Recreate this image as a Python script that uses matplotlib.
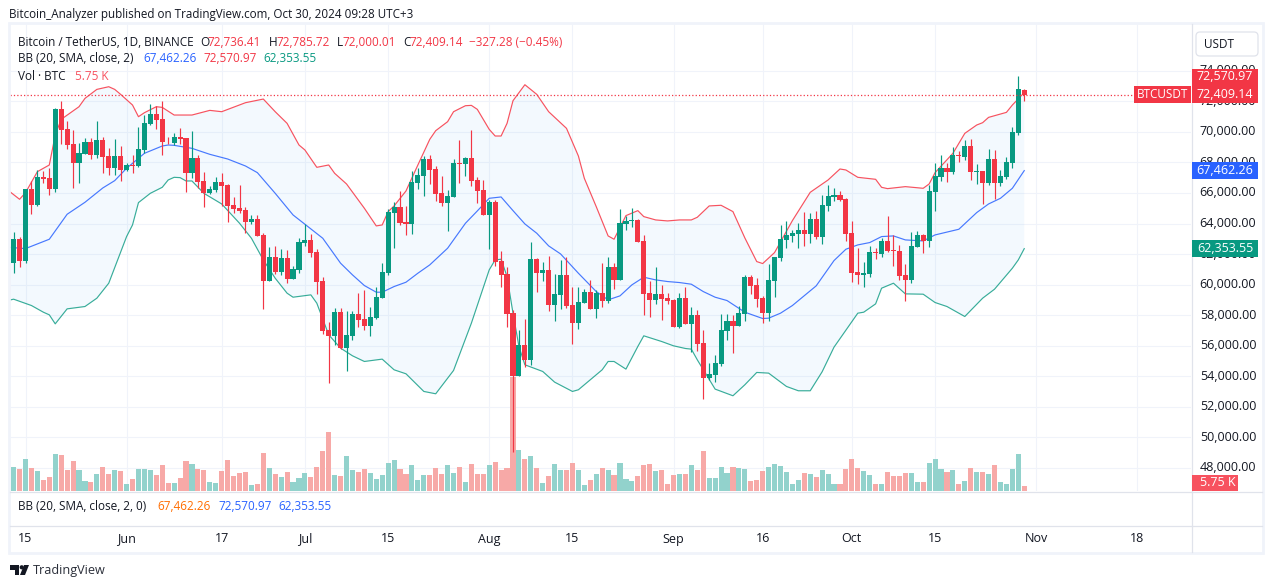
import matplotlib
matplotlib.use('Agg')
import matplotlib.pyplot as plt
import matplotlib.transforms as mtrans
from matplotlib.patches import Rectangle, Circle, Polygon, FancyBboxPatch

plt.rcParams['font.family'] = ['Open Sans', 'DejaVu Sans']

# daily candles, May 13 to Oct 30 2024
opens = [61444,62970,61553,66240,65215,67046,66981,66261,71493,70164,
         69204,67984,68572,69313,68507,69466,68420,67657,68420,67482,
         67809,67787,68834,70534,71145,70818,69422,69270,69662,69575,
         67330,68267,66763,66000,66196,66719,66523,65215,65019,64888,
         64103,64299,63253,60266,61814,60833,61749,60397,60986,62752,
         62926,62141,60245,57040,56604,58217,55819,56669,58086,57759,
         57302,57825,59155,60790,64692,65084,64081,63972,66676,67133,
         68223,67569,65978,65346,65760,67962,67918,68289,66850,66196,
         64561,65411,61553,60702,58152,53988,56059,55078,61683,60768,
         60964,58675,59329,60637,58675,57498,58806,59525,58413,59460,
         58937,61160,60310,63972,64169,64234,62861,59460,59002,59394,
         59133,59002,57236,59133,57432,58021,56190,53901,54097,54816,
         56975,57629,57302,58086,60506,59983,59133,58152,60245,61749,
         62926,63188,63318,63580,63318,64299,63122,65150,65738,65869,
         65607,63384,60833,60637,60702,62141,62010,62861,62272,62207,
         60637,60310,62468,63253,62861,66065,67046,67635,67373,68463,
         68354,69074,67395,67439,66654,68223,66654,67046,67962,69924,72736]
highs = [63449,63100,66240,66785,67482,67439,67613,71537,71995,70709,
         70120,69248,69619,69575,70709,69640,68943,69531,69074,67962,
         68463,70338,71079,71799,71711,71995,69640,69924,70229,69597,
         70055,68463,67373,66479,67046,67286,66588,65738,66523,65084,
         64561,64561,63384,62490,62534,62359,62272,61247,63057,63972,
         63318,62337,60506,57541,58479,58479,58283,58283,59460,59656,
         58544,59830,61400,64953,65411,66131,65150,67417,67613,68420,
         68485,67744,67112,66196,68223,69466,68332,70120,67024,66850,
         65542,65564,62207,61160,58348,57040,57738,62795,61749,61487,
         61880,60702,61618,61814,59852,59852,59721,60310,59656,61422,
         61814,61422,64953,64496,65019,64299,63253,60245,61160,59983,
         59460,59067,59460,59852,58544,58348,57040,54882,55405,58086,
         58086,58021,58610,60637,60637,60441,59264,61356,61814,63907,
         64169,63580,64038,64757,64692,64823,65869,66523,66327,66131,
         65673,64169,62403,61487,62534,62403,63057,64496,63253,62599,
         61356,63449,63514,63318,66523,67962,68485,67962,69008,68747,
         69466,69531,67896,67439,68877,68812,67504,68354,70316,73652,72785]
lows = [60790,61182,61400,64648,65171,66676,65891,66087,69226,68877,
        66349,66676,68529,68202,68311,67330,67199,67177,66763,67460,
        67330,67722,68616,70469,70207,68507,69226,69161,69226,66087,
        66959,66305,65106,65913,66065,65150,64103,64714,64670,63405,
        63994,63188,58435,60266,60702,60637,60114,60375,60790,62555,
        61836,59394,56778,53552,56059,55776,54315,56342,57193,57040,
        56604,57759,59155,60637,62425,63907,63275,63340,66283,65825,
        66588,65498,65150,63536,65738,66676,67133,66479,65368,64561,
        62359,61247,59852,57193,49061,53988,54577,54751,59525,60245,
        58283,57650,58413,58501,56124,57105,58806,58413,57825,58544,
        58806,59721,60310,63580,63776,62795,58021,57890,58740,57694,
        58740,57236,57171,57432,55601,55667,52527,53770,53639,54686,
        56386,55536,57302,57629,59394,58544,57498,57629,59198,61553,
        62403,62795,62403,62534,62730,62991,62664,64823,65477,65477,
        62861,60179,60048,59852,60506,61683,61814,62141,61226,60310,
        58937,60114,62468,62076,62468,64823,66785,66719,67242,68027,
        68158,66850,66588,65280,66523,65607,66458,66915,67635,69793,72000]
closes = [62970,61553,66240,65237,67046,66915,66261,71493,70142,69161,
          67984,68616,69313,68507,69466,68376,67657,68420,67526,67831,
          67766,68877,70578,71145,70796,69357,69379,69662,69553,67330,
          68267,66741,66000,66240,66719,66479,65171,64953,64823,64103,
          64299,63209,60266,61814,60833,61749,60397,61029,62795,62926,
          62098,60201,56996,56604,58217,55819,56691,58086,57694,57302,
          57890,59198,60833,64757,65084,64038,63972,66719,67177,68223,
          67526,65934,65346,65804,67962,67918,68289,66806,66152,64561,
          65411,61509,60659,58108,53988,56059,55078,61683,60768,60964,
          58675,59394,60637,58610,57498,58871,59525,58413,59460,58937,
          61160,60310,64038,64169,64212,62795,59394,59002,59394,59067,
          58937,57236,59133,57432,58021,56124,53901,54162,54882,57040,
          57629,57302,58152,60506,59918,59067,58152,60310,61814,62991,
          63253,63384,63580,63318,64299,63122,65215,65804,65869,65542,
          63318,60768,60637,60768,62141,62098,62861,62207,62228,60572,
          60310,62534,63253,62861,66131,67112,67635,67373,68485,68420,
          69074,67373,67439,66654,68223,66654,67112,68027,69989,72801,72409]
volumes = [27.6,25.3,36.8,26.4,23.0,12.6,16.1,42.5,41.4,24.1,
           34.5,24.1,11.5,10.3,19.5,27.6,19.5,24.1,23.0,8.0,
           13.8,25.3,25.3,24.1,18.4,29.9,9.2,9.2,14.9,34.5,
           31.0,25.3,24.1,10.3,9.2,23.0,35.6,17.2,20.7,21.8,
           6.9,8.0,43.7,26.4,19.5,16.1,21.8,10.3,14.9,20.7,
           16.1,27.6,46.0,67.8,18.4,17.2,40.2,24.1,21.8,25.3,
           20.7,13.8,18.4,32.2,35.6,25.3,19.5,29.9,12.6,18.4,
           18.4,26.4,19.5,29.9,20.7,27.6,10.3,31.0,19.5,19.5,
           29.9,33.3,24.1,26.4,131.0,47.1,36.8,40.2,26.4,9.2,
           17.2,31.0,24.1,24.1,32.2,24.1,6.9,12.6,19.5,26.4,
           24.1,18.4,32.2,13.8,11.5,17.2,29.9,31.0,23.0,24.1,
           8.0,18.4,19.5,19.5,29.9,24.1,46.0,14.9,14.9,27.6,
           20.7,27.6,26.4,25.3,11.5,12.6,23.0,27.6,31.0,28.7,
           21.8,8.0,12.6,20.7,19.5,16.1,24.1,19.5,8.0,8.0,
           25.3,36.8,26.4,23.0,18.4,8.0,8.0,21.8,17.2,17.2,
           20.7,20.7,10.3,10.3,32.2,36.8,25.3,21.8,24.1,8.0,
           11.5,26.4,21.8,21.8,19.5,29.9,10.3,8.0,25.3,42.5,5.75]

# Bollinger lines, read at their visible bends
upper_idx = [-1,1,2,4,6,7,8,11,12,14,16,17,18,20,21,22,24,25,27,30,33,35,39,42,44,46,48,49,51,53,54,56,
             59,61,62,63,64,66,68,70,71,73,74,76,77,78,80,81,82,83,84,86,88,90,93,95,96,98,100,101,103,
             105,106,108,110,112,114,115,117,119,121,123,125,126,128,131,134,137,139,140,142,145,146,147,
             150,153,154,155,158,160,162,163,164,167,168,170]
upper_band = [66196,65585,66022,67395,67831,69793,70818,71646,72191,72780,72954,72780,72453,71755,70992,71254,
              71646,71602,71101,71101,71406,71319,71908,72147,71319,70556,69139,68812,67678,67831,67286,66588,
              64997,63842,63907,64779,65150,66131,67831,69510,70076,70665,71319,71711,71733,71472,70164,69728,
              69728,70556,72038,73085,72453,71319,70229,68420,66959,65106,63188,62970,64517,
              64844,64452,64234,64169,64234,64234,64408,65150,65193,64779,63057,61509,61378,62098,64190,66043,
              66850,67569,67504,67024,66894,66370,66283,66414,66305,66588,67330,68594,69902,70447,70600,70948,
              71275,71755,72571]
basis_idx = [-1,2,5,6,9,12,15,17,19,22,25,26,27,30,33,36,39,41,44,47,49,52,55,57,59,61,62,64,66,68,70,73,75,76,
             78,80,82,84,86,88,90,92,95,98,100,102,104,106,108,110,112,114,116,118,120,123,126,127,129,131,
             135,138,140,142,144,146,148,150,153,155,159,162,164,166,168,170]
basis_band = [62446,62359,62817,62970,64605,65389,66327,66806,67613,68594,69074,69139,69117,68921,68529,68223,
              67766,67330,65978,64561,63951,63035,61400,60637,59939,59503,59503,59874,60157,60746,61291,62381,
              63471,64016,64823,65651,65738,64844,63972,63362,62534,62010,60746,59547,59002,59264,59983,60484,
              60310,60201,60136,60027,59547,59176,58958,58195,57781,57803,58130,58631,59918,61574,62316,62599,
              62752,63144,63188,62926,62861,63253,63624,64714,65280,65651,66305,67462]
lower_idx = [-1,0,3,5,6,7,9,12,14,16,19,20,21,23,25,26,27,28,29,30,32,35,38,40,42,44,46,47,50,51,53,55,57,59,
             62,64,66,69,71,74,77,80,81,82,83,84,85,86,89,91,94,95,99,100,101,103,105,106,109,111,113,114,
             115,118,121,123,125,127,130,132,134,136,138,142,143,145,146,148,150,153,155,157,160,163,165,
             168,169,170]
lower_band = [58958,59046,58631,58195,58021,57432,58413,58566,59111,60092,63144,63907,65368,65978,66370,66850,
              67024,67003,66785,66785,65978,65280,64016,63035,61618,60419,59438,59176,59329,58784,56713,55841,
              55340,54969,55122,54424,54162,53007,52854,54380,57476,60964,61618,61662,60528,58130,55950,54751,
              54315,53617,53007,53116,54424,54969,54969,54468,55950,56648,56277,55994,55819,55776,55078,53160,
              52724,53443,54250,54206,53334,53051,53051,54293,55906,58130,58195,58740,59765,60092,59394,59373,
              58828,58566,57912,59111,59700,61073,61618,62354]

# axis labels
price_ticks = list(range(48000, 76000, 2000))
date_pos = [2,19,35,49,63,80,94,111,126,141,155,172,189]
date_labels = ['15','Jun','17','Jul','15','Aug','15','Sep','16','Oct','15','Nov','18']

GREEN = '#089981'
RED = '#f23645'
SOFT_RED = '#f7525f'
BLUE = '#2962ff'
DARK = '#131722'
GRID = '#f0f3fa'
LINE = '#e0e3eb'
W, H = 1273, 588


def pane(x0, y0, x1, y1):
    return [x0/W, (H-y1)/H, (x1-x0)/W, (y1-y0)/H]


fig = plt.figure(figsize=(W/100, H/100), dpi=100, facecolor='white')

# bottom layer: grid and volume
vol = fig.add_axes(pane(10, 24, 1191, 491), zorder=1)
ax = fig.add_axes(pane(10, 24, 1191, 491), zorder=2)
ax.patch.set_visible(False)
xlim = (-0.61, 198.05)
ylim = (46490, 77060)
ax.set_xlim(xlim)
ax.set_ylim(ylim)
vol.set_xlim(xlim)
vol.set_ylim(0, 537)

idx = list(range(len(opens)))
colors = [GREEN if c >= o else RED for o, c in zip(opens, closes)]
vol_colors = ['#92d2cc' if c >= o else '#f7a9a7' for o, c in zip(opens, closes)]
vol.bar(idx, volumes, width=0.86, color=vol_colors, linewidth=0)
vol.set_xticks(date_pos)
vol.set_yticks([(p-ylim[0])*537/(ylim[1]-ylim[0]) for p in price_ticks])
vol.grid(True, color=GRID, linewidth=0.8)
vol.set_axisbelow(True)
vol.tick_params(length=0, labelbottom=False, labelleft=False)
for s in vol.spines.values():
    s.set_visible(False)

# Bollinger cloud
cloud_x = upper_idx + lower_idx[::-1]
cloud_y = upper_band + lower_band[::-1]
ax.fill(cloud_x, cloud_y, color='#2196f3', alpha=0.05, linewidth=0, zorder=1)
ax.plot(upper_idx, upper_band, color=SOFT_RED, lw=0.85, zorder=2)
ax.plot(basis_idx, basis_band, color=BLUE, lw=0.85, alpha=0.85, zorder=2)
ax.plot(lower_idx, lower_band, color=GREEN, lw=0.85, alpha=0.8, zorder=2)

# candles
ax.vlines(idx, lows, highs, colors=colors, lw=0.85, zorder=3)
bottoms = [min(o, c) for o, c in zip(opens, closes)]
heights = [max(abs(c-o), 40) for o, c in zip(opens, closes)]
ax.bar(idx, heights, bottom=bottoms, width=0.86, color=colors, linewidth=0, zorder=4)

# last price line
ax.axhline(closes[-1], color=RED, lw=0.9, linestyle=(0, (1, 1.7)), zorder=5)

ax.yaxis.tick_right()
ax.set_yticks(price_ticks)
ax.set_yticklabels([f'{p:,.2f}' for p in price_ticks], fontsize=9, color=DARK)
ax.tick_params(axis='y', length=0, pad=6.3)
ax.tick_params(axis='x', length=0, labelbottom=False)
ax.set_xticks([])
up = mtrans.ScaledTranslation(0, 1.5/100, fig.dpi_scale_trans)
for lab in ax.get_yticklabels():
    lab.set_transform(lab.get_transform() + up)
for s in ax.spines.values():
    s.set_visible(False)

# time scale
time_ax = fig.add_axes(pane(10, 526, 1191, 552), zorder=2)
time_ax.set_xlim(xlim)
time_ax.set_ylim(0, 1)
time_ax.axis('off')
for pos, lab in zip(date_pos, date_labels):
    time_ax.text(pos, 0.5, lab, ha='center', va='center', fontsize=9, color=DARK)

# overlay in pixels: frame, legend, price tags, logo
ov = fig.add_axes([0, 0, 1, 1], zorder=5)
ov.set_xlim(0, W)
ov.set_ylim(H, 0)
ov.axis('off')
ov.patch.set_visible(False)

ov.add_patch(Rectangle((9, 23), 1254, 530, fill=False, ec=GRID, lw=2))
ov.plot([10, 1262], [491.5, 491.5], color=LINE, lw=0.9)
ov.plot([10, 1262], [525.5, 525.5], color=LINE, lw=0.9)
ov.plot([1191.5, 1191.5], [24, 552], color=LINE, lw=0.9)

ov.text(9, 14.5, 'Bitcoin_Analyzer published on TradingView.com, Oct 30, 2024 09:28 UTC+3',
        fontsize=8.4, color=DARK, va='center')


def legend_row(y, parts):
    for x, txt, col in parts:
        ov.text(x, y, txt, fontsize=8.5, color=col, va='center')


legend_row(42, [(18, 'Bitcoin / TetherUS, 1D, BINANCE', DARK),
                (200, 'O', DARK), (207, '72,736.41', RED),
                (269, 'H', DARK), (276, '72,785.72', RED),
                (337, 'L', DARK), (342, '72,000.01', RED),
                (403, 'C', DARK), (409, '72,409.14', RED),
                (469, '\u2212327.28 (\u22120.45%)', RED)])
legend_row(59, [(18, 'BB (20, SMA, close, 2)', DARK),
                (143, '67,462.26', BLUE), (203, '72,570.97', RED), (263, '62,353.55', GREEN)])
legend_row(76, [(18, 'Vol \u00b7 BTC', DARK), (75, '5.75 K', SOFT_RED)])
legend_row(507, [(18, 'BB (20, SMA, close, 2, 0)', DARK),
                 (157, '67,462.26', '#ff6d00'), (218, '72,570.97', BLUE), (278, '62,353.55', BLUE)])

# USDT button
ov.add_patch(FancyBboxPatch((1196, 32), 62, 24, boxstyle='round,pad=0,rounding_size=4',
                            fc='white', ec=LINE, lw=0.9))
ov.text(1204, 44.5, 'USDT', fontsize=8.5, color=DARK, va='center')

# price tags
ov.add_patch(Rectangle((1192, 69), 66, 34, fc=RED, ec='none', zorder=3))
ov.add_patch(Rectangle((1134, 86), 57, 17, fc=RED, ec='none', zorder=3))
ov.add_patch(Rectangle((1192, 162), 66, 17, fc=BLUE, ec='none', zorder=3))
ov.add_patch(Rectangle((1192, 240), 66, 17, fc=GREEN, ec='none', zorder=3))
ov.add_patch(Rectangle((1192, 475), 46, 16, fc=SOFT_RED, ec='none', zorder=3))
for y, txt in [(76.7, '72,570.97'), (94, '72,409.14'), (170, '67,462.26'), (248.5, '62,353.55')]:
    ov.text(1253, y, txt, fontsize=9, color='white', va='center', ha='right', zorder=4)
ov.text(1162.5, 94.5, 'BTCUSDT', fontsize=8.5, color='white', va='center', ha='center', zorder=4)
ov.text(1200, 483, '5.75 K', fontsize=9, color='white', va='center', zorder=4)

# TradingView logo
ov.add_patch(Polygon([(10, 565), (19, 565), (19, 575), (15, 575), (15, 569.5), (10, 569.5)], fc=DARK, ec='none'))
ov.add_patch(Circle((21.7, 567.3), 2.1, fc=DARK, ec='none'))
ov.add_patch(Polygon([(24, 565), (29, 565), (25, 575), (20, 575)], fc=DARK, ec='none'))
ov.text(33, 570.5, 'TradingView', fontsize=9.1, color='#2a2e39', va='center')

fig.savefig('out.png', dpi=100, facecolor='white')
